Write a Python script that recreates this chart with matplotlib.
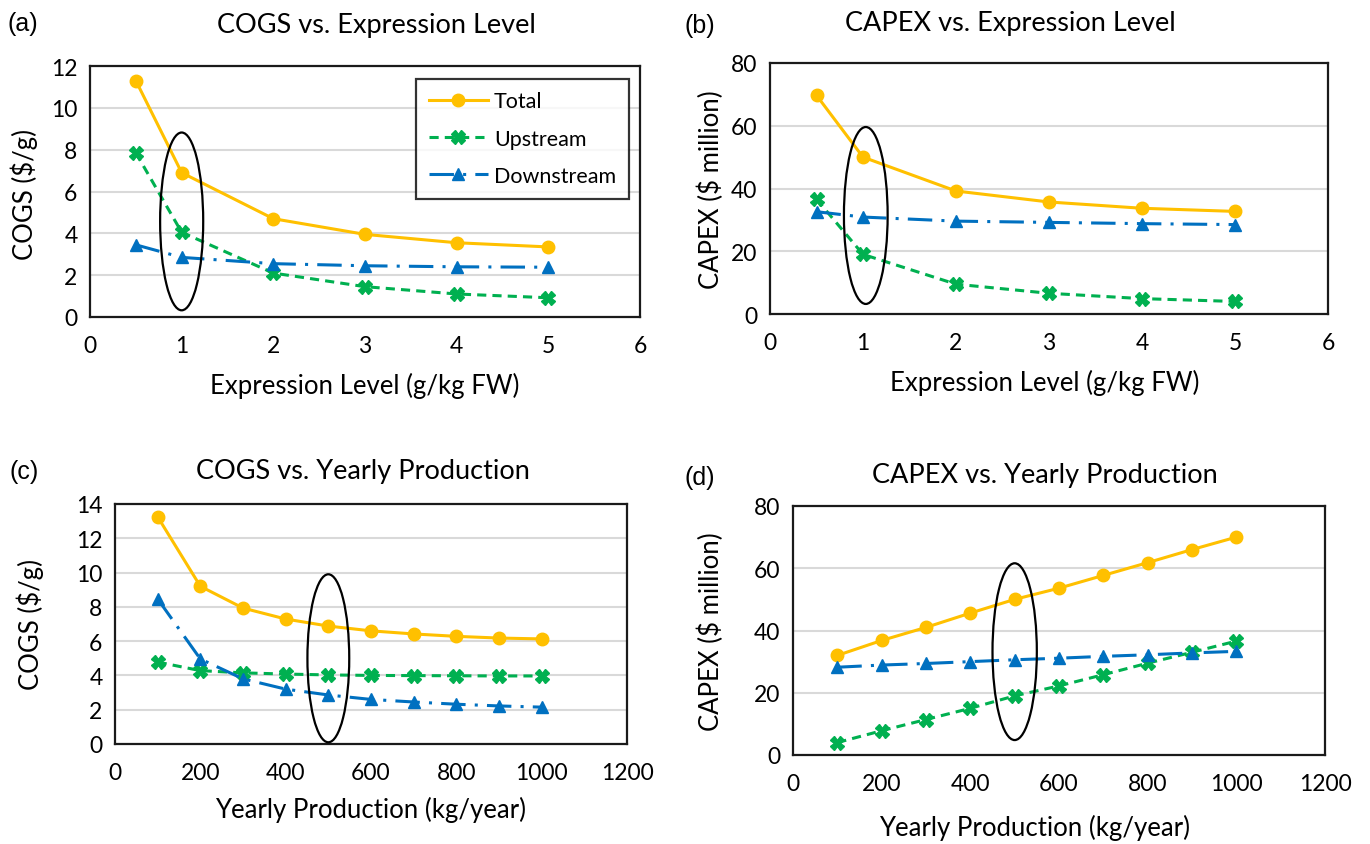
import numpy as np
import matplotlib
matplotlib.use("Agg")
import matplotlib.pyplot as plt
from matplotlib.patches import Ellipse

plt.rcParams['font.family'] = ['Lato', 'DejaVu Sans']

# data
expr_level = [0.5, 1, 2, 3, 4, 5]
cogs_expr_total = [11.3, 6.9, 4.7, 3.95, 3.55, 3.35]
cogs_expr_up = [7.85, 4.05, 2.1, 1.45, 1.1, 0.92]
cogs_expr_down = [3.45, 2.85, 2.55, 2.45, 2.4, 2.38]

capex_expr_total = [69.7, 50.0, 39.2, 35.7, 33.7, 32.7]
capex_expr_up = [36.6, 19.0, 9.5, 6.6, 4.9, 4.0]
capex_expr_down = [32.6, 30.9, 29.6, 29.2, 28.8, 28.5]

yearly_prod = [100, 200, 300, 400, 500, 600, 700, 800, 900, 1000]
cogs_prod_total = [13.25, 9.2, 7.93, 7.29, 6.88, 6.6, 6.42, 6.28, 6.18, 6.13]
cogs_prod_up = [4.78, 4.28, 4.15, 4.08, 4.03, 4.0, 3.99, 3.98, 3.97, 3.97]
cogs_prod_down = [8.46, 4.96, 3.8, 3.2, 2.86, 2.6, 2.45, 2.32, 2.22, 2.15]

capex_prod_total = [32.0, 36.8, 41.0, 45.6, 50.0, 53.6, 57.7, 61.8, 66.0, 70.0]
capex_prod_up = [4.0, 7.8, 11.4, 15.0, 19.0, 22.2, 25.8, 29.5, 33.0, 36.6]
capex_prod_down = [28.2, 28.9, 29.4, 30.0, 30.6, 31.1, 31.7, 32.2, 32.8, 33.3]

C_TOTAL = '#FFC000'
C_UP = '#00B050'
C_DOWN = '#0070C0'


def draw_panel(ax, x, total, up, down, xlim, xstep, ylim, ystep):
    ax.plot(x, total, color=C_TOTAL, lw=2.2, marker='o', ms=9, label='Total')
    ax.plot(x, up, color=C_UP, lw=2.2, ls=(0, (3, 2)), marker='X', ms=10,
            label='Upstream')
    ax.plot(x, down, color=C_DOWN, lw=2.2, ls=(0, (8, 3, 1, 3)), marker='^',
            ms=8, label='Downstream')
    ax.set_xlim(*xlim)
    ax.set_ylim(*ylim)
    ax.set_xticks(np.arange(xlim[0], xlim[1] + xstep / 2, xstep))
    ax.set_yticks(np.arange(ylim[0], ylim[1] + ystep / 2, ystep))
    ax.yaxis.grid(True, color='#D9D9D9', lw=1.5)
    ax.set_axisbelow(True)
    ax.tick_params(length=0, labelsize=16.5)
    ax.tick_params(axis='x', pad=13)
    ax.tick_params(axis='y', pad=9)
    for s in ax.spines.values():
        s.set_linewidth(1.6)
        s.set_color('#1a1a1a')


fig = plt.figure(figsize=(13.7, 8.45), dpi=100)
W, H = 1370, 845


def add_ax(l, t, r, b):
    return fig.add_axes([l / W, 1 - b / H, (r - l) / W, (b - t) / H])


ax_a = add_ax(90, 67, 640, 318)
ax_b = add_ax(770, 64, 1328, 315)
ax_c = add_ax(115, 505, 627, 745)
ax_d = add_ax(793, 507, 1325, 756)

draw_panel(ax_a, expr_level, cogs_expr_total, cogs_expr_up, cogs_expr_down,
           (0, 6), 1, (0, 12), 2)
draw_panel(ax_b, expr_level, capex_expr_total, capex_expr_up, capex_expr_down,
           (0, 6), 1, (0, 80), 20)
draw_panel(ax_c, yearly_prod, cogs_prod_total, cogs_prod_up, cogs_prod_down,
           (0, 1200), 200, (0, 14), 2)
draw_panel(ax_d, yearly_prod, capex_prod_total, capex_prod_up, capex_prod_down,
           (0, 1200), 200, (0, 80), 20)

# highlight ellipses
for ax, cx, cy, w, h in [(ax_a, 1.0, 4.57, 0.47, 8.5),
                         (ax_b, 1.03, 31.4, 0.47, 56.4),
                         (ax_c, 500, 5.0, 98, 9.8),
                         (ax_d, 500, 33.2, 100, 56.8)]:
    ax.add_patch(Ellipse((cx, cy), w, h, fill=False, ec='black', lw=1.6,
                         zorder=5))

leg = ax_a.legend(loc='upper right', bbox_to_anchor=(0.98, 0.95),
                  fontsize=15.5, frameon=True, fancybox=False,
                  handlelength=2.7, labelspacing=0.8, borderpad=0.6,
                  handletextpad=0.3, borderaxespad=0)
leg.get_frame().set_edgecolor('black')
leg.get_frame().set_linewidth(1.6)


def ftext(x, y, s, **kw):
    fig.text(x / W, 1 - y / H, s, ha='center', va='center', **kw)


# panel titles and letters
ftext(376, 25, 'COGS vs. Expression Level', fontsize=19.5)
ftext(1010, 24, 'CAPEX vs. Expression Level', fontsize=19.5)
ftext(363, 472, 'COGS vs. Yearly Production', fontsize=19.5)
ftext(1045, 476, 'CAPEX vs. Yearly Production', fontsize=19.5)
for x, y, s in [(23, 24, '(a)'), (700, 26, '(b)'), (24, 472, '(c)'),
                (700, 478, '(d)')]:
    ftext(x, y, s, fontsize=18, family='Liberation Sans')

# axis labels
ftext(365, 386, 'Expression Level (g/kg FW)', fontsize=18.5)
ftext(1045, 383, 'Expression Level (g/kg FW)', fontsize=18.5)
ftext(371, 810, 'Yearly Production (kg/year)', fontsize=18.5)
ftext(1035, 828, 'Yearly Production (kg/year)', fontsize=18.5)
ftext(24, 195, 'COGS ($/g)', fontsize=18.5, rotation=90)
ftext(711, 190, 'CAPEX ($ million)', fontsize=18.5, rotation=90)
ftext(30, 625, 'COGS ($/g)', fontsize=18.5, rotation=90)
ftext(711, 632, 'CAPEX ($ million)', fontsize=18.5, rotation=90)

fig.savefig('out.png', dpi=100)
